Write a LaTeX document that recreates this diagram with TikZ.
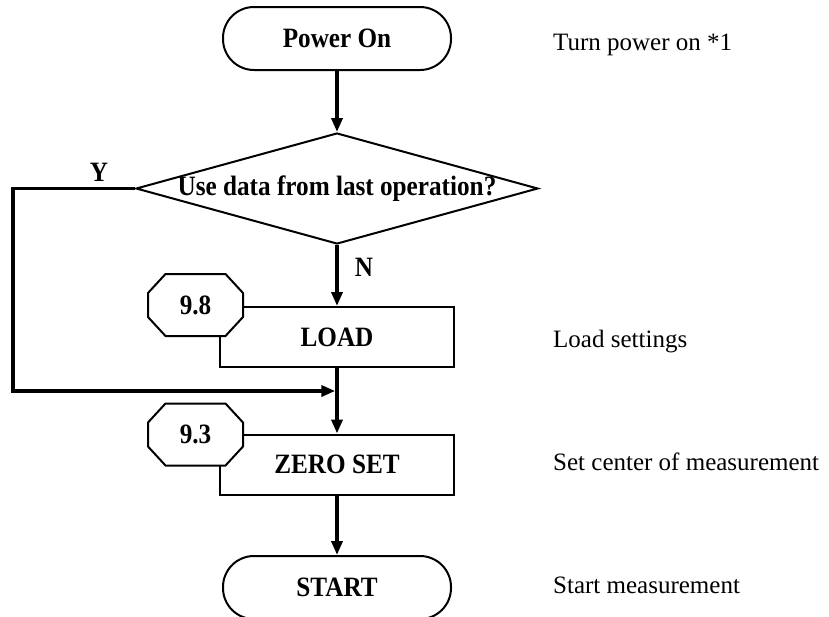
\documentclass[tikz,border=0pt]{standalone}
\usepackage{fontspec}
\setmainfont{Liberation Serif}
\newfontfamily\lblfont[FakeStretch=0.9]{Liberation Serif}
\usetikzlibrary{arrows.meta,shapes.geometric}
\begin{document}
\begin{tikzpicture}[x=1pt,y=-1pt,
  boxline/.style={draw=black, line width=2pt},
  bfont/.style={font=\lblfont\bfseries\fontsize{28}{30}\selectfont},
  termbox/.style={boxline, rectangle, rounded corners=31pt, minimum width=228pt, minimum height=63pt, inner sep=0pt, bfont},
  procbox/.style={boxline, rectangle, minimum width=234pt, minimum height=60pt, inner sep=0pt, bfont},
  lbl/.style={inner sep=0pt, bfont},
  note/.style={anchor=base west, inner sep=0pt, font=\fontsize{25}{28}\selectfont},
  arr/.style={line width=3.5pt, -{Triangle[length=14pt,width=11pt]}},
  plain/.style={line width=3.5pt},
]
\clip (0,0) rectangle (829,616);
% boxes
\node[termbox] (pwr) at (337,38.5) {Power On};
\node[diamond, boxline, minimum width=402pt, minimum height=111pt, inner sep=0pt] (dec) at (337,188.5) {};
\node[lbl] (dectxt) at (337,189) {Use data from last operation?};
\node[procbox] (load) at (337,337) {LOAD};
\node[procbox] (zero) at (337,464.5) {ZERO SET};
\node[termbox] (start) at (337,587.5) {START};
% reference hexagons
\foreach \nm/\cx/\cy/\t in {h98/195.5/305/9.8, h93/195.5/434.5/9.3}{
  \draw[boxline, fill=white, shift={(\cx,\cy)}]
    (-30,-31) -- (30,-31) -- (47.5,-12) -- (47.5,12) -- (30,31) -- (-30,31) -- (-47.5,12) -- (-47.5,-12) -- cycle;
  \node[lbl] (\nm) at (\cx,\cy) {\t};
}
% labels
\node[lbl] (ylbl) at (99,172) {Y};
\node[lbl] (nlbl) at (364,267) {N};
% notes
\node[note] (n1) at (553,50) {Turn power on *1};
\node[note] (n2) at (553,347) {Load settings};
\node[note] (n3) at (553,470) {Set center of measurement};
\node[note] (n4) at (553,593) {Start measurement};
% connectors
\coordinate (join) at (337,391);
\draw[arr] (pwr.south) -- (dec.north);
\draw[arr] (dec.south) -- (load.north);
\draw[arr, shorten >=1.75pt] (dec.west) -- ++(-122,0) |- (join);
\draw[arr] (load.south) -- (zero.north);
\draw[arr] (zero.south) -- (start.north);
\end{tikzpicture}
\end{document}
